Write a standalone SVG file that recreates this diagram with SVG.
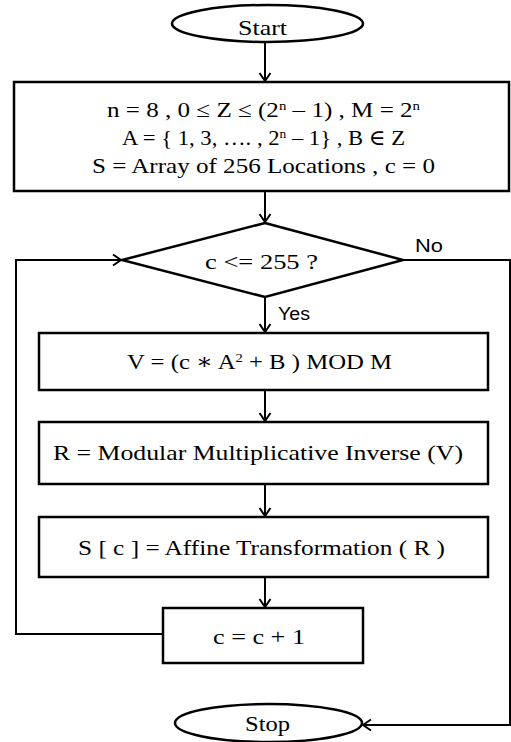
<svg xmlns="http://www.w3.org/2000/svg" width="511" height="742" viewBox="0 0 511 742">
<style>
.shape{fill:#fff;stroke:#000;stroke-width:2.5}
.t{font-family:"Liberation Serif","DejaVu Serif",serif;font-size:22px;fill:#000}
.lbl{font-family:"Liberation Sans","DejaVu Sans",sans-serif;font-size:18px;fill:#000}
.c{fill:none;stroke:#000;stroke-width:2}
.sup{font-size:13px}
</style>
<defs>
<marker id="ah" markerWidth="14" markerHeight="14" refX="10" refY="7" orient="auto" markerUnits="userSpaceOnUse">
<path d="M2,1.5 L10,7 L2,12.5" fill="none" stroke="#000" stroke-width="2"/>
</marker>
</defs>
<rect width="511" height="742" fill="#fff"/>
<g id="connectors">
<path class="c" d="M265,42 V81" marker-end="url(#ah)"/>
<path class="c" d="M265,191 V222" marker-end="url(#ah)"/>
<path class="c" d="M265,297 V332" marker-end="url(#ah)"/>
<path class="c" d="M265,390 V421" marker-end="url(#ah)"/>
<path class="c" d="M265,484 V516" marker-end="url(#ah)"/>
<path class="c" d="M265,577 V607" marker-end="url(#ah)"/>
<path class="c" d="M163,634 H16 V260 H121" marker-end="url(#ah)"/>
<path class="c" d="M403,260 H510 V725 H363" marker-end="url(#ah)"/>
<text class="lbl" x="415" y="252" textLength="28" lengthAdjust="spacingAndGlyphs">No</text>
<text class="lbl" x="278" y="320" textLength="32" lengthAdjust="spacingAndGlyphs">Yes</text>
</g>
<g id="start">
<ellipse class="shape" cx="267.5" cy="23.5" rx="95.5" ry="18.5"/>
<text class="t" x="238" y="35" textLength="49" lengthAdjust="spacingAndGlyphs">Start</text>
</g>
<g id="init">
<rect class="shape" x="14" y="82" width="495" height="109"/>
<text class="t" x="107" y="117" textLength="313" lengthAdjust="spacingAndGlyphs">n = 8 , 0 ≤ Z ≤ (2<tspan class="sup" dy="-7">n</tspan><tspan dy="7"> – 1) , M = 2</tspan><tspan class="sup" dy="-7">n</tspan></text>
<text class="t" x="122" y="145" textLength="283" lengthAdjust="spacingAndGlyphs">A = { 1, 3, …. , 2<tspan class="sup" dy="-7">n</tspan><tspan dy="7"> – 1} , B ∈ Z</tspan></text>
<text class="t" x="92" y="173" textLength="343" lengthAdjust="spacingAndGlyphs">S = Array of 256 Locations , c = 0</text>
</g>
<g id="decision">
<polygon class="shape" points="265,223 403,260 265,297 122,260"/>
<text class="t" x="205" y="269" textLength="113" lengthAdjust="spacingAndGlyphs">c &lt;= 255 ?</text>
</g>
<g id="computeV">
<rect class="shape" x="39" y="333" width="449" height="57"/>
<text class="t" x="127" y="369" textLength="265" lengthAdjust="spacingAndGlyphs">V  = (c  ∗ A<tspan class="sup" dy="-7">2</tspan><tspan dy="7"> + B ) MOD M</tspan></text>
</g>
<g id="computeR">
<rect class="shape" x="39" y="422" width="449" height="62"/>
<text class="t" x="53" y="460" textLength="410" lengthAdjust="spacingAndGlyphs">R  = Modular Multiplicative Inverse (V)</text>
</g>
<g id="affine">
<rect class="shape" x="39" y="517" width="449" height="60"/>
<text class="t" x="78" y="555" textLength="367" lengthAdjust="spacingAndGlyphs">S [ c ] = Affine Transformation ( R )</text>
</g>
<g id="increment">
<rect class="shape" x="163" y="608" width="200" height="55"/>
<text class="t" x="213" y="644" textLength="92" lengthAdjust="spacingAndGlyphs">c = c + 1</text>
</g>
<g id="stop">
<ellipse class="shape" cx="268.5" cy="723" rx="93.5" ry="19"/>
<text class="t" x="245" y="731" textLength="45" lengthAdjust="spacingAndGlyphs">Stop</text>
</g>
</svg>
